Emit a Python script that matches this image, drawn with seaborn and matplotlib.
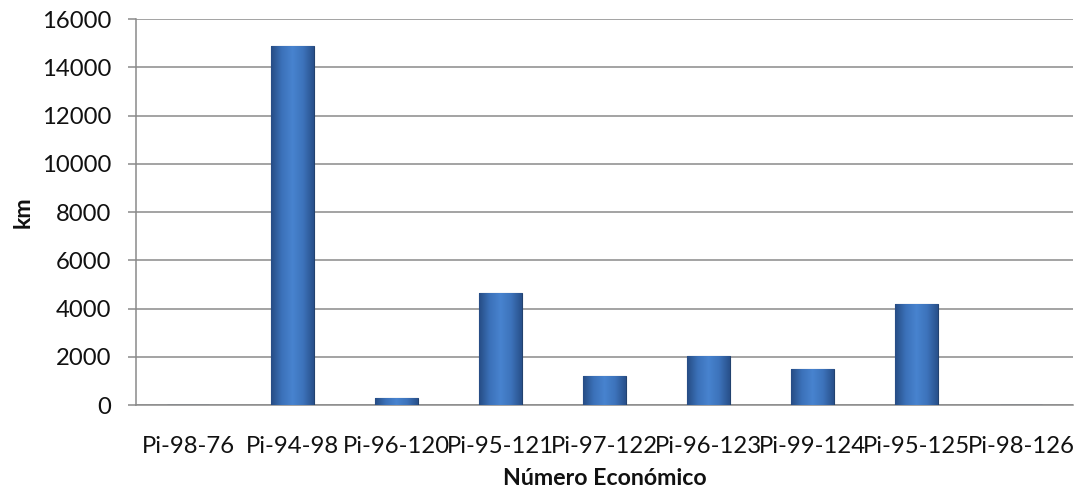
import numpy as np
import pandas as pd
import matplotlib
matplotlib.use("Agg")
import matplotlib.pyplot as plt
import seaborn as sns
from matplotlib.colors import LinearSegmentedColormap

categories = ["Pi-98-76", "Pi-94-98", "Pi-96-120", "Pi-95-121", "Pi-97-122",
              "Pi-96-123", "Pi-99-124", "Pi-95-125", "Pi-98-126"]
km_values = [0, 14870, 300, 4640, 1210, 2040, 1480, 4190, 0]
y_ticks = [0, 2000, 4000, 6000, 8000, 10000, 12000, 14000, 16000]

sns.set_theme(style="white")
plt.rcParams['font.family'] = ['Lato', 'DejaVu Sans']

df = pd.DataFrame({"cat": categories, "km": km_values})

fig = plt.figure(figsize=(10.81, 4.94), dpi=100)
ax = fig.add_axes([0.1258, 0.18, 0.9926 - 0.1258, 0.9615 - 0.18])

sns.barplot(data=df, x="cat", y="km", ax=ax, color="#3c73bd", width=0.41,
            edgecolor="#22426f", linewidth=0.8, saturation=1, zorder=3)

# gradient shading on each bar (derived from the bar patches)
cmap = LinearSegmentedColormap.from_list(
    "bev", ["#264c84", "#3b71b9", "#4883cf", "#3d73bb", "#28508a"])
grad = np.linspace(0, 1, 256).reshape(1, -1)
for p in ax.patches:
    h = p.get_height()
    if h <= 0:
        continue
    x0 = p.get_x(); w = p.get_width()
    im = ax.imshow(grad, extent=[x0, x0 + w, 0, h], aspect="auto",
                   cmap=cmap, zorder=3.5, interpolation="bicubic")
    im.set_clip_path(p)
ax.set_xlim(-0.5, len(categories) - 0.5)
ax.set_ylim(0, 16000)
ax.set_yticks(y_ticks)
ax.set_yticklabels([str(v) for v in y_ticks])

ax.yaxis.grid(True, color="#8a8a8a", linewidth=1.1, zorder=0)
ax.xaxis.grid(False)
for s in ["top", "right"]:
    ax.spines[s].set_visible(False)
for s in ["left", "bottom"]:
    ax.spines[s].set_color("#8a8a8a")
    ax.spines[s].set_linewidth(1.1)

FS = 17.2
ax.tick_params(axis="y", which="both", left=True, length=6, width=1.1,
               color="#8a8a8a", labelsize=FS, pad=12, labelcolor="#111111")
ax.tick_params(axis="x", bottom=False, labelsize=FS, pad=16, labelcolor="#111111")

ax.set_xlabel("Número Económico", fontsize=FS - 0.5, fontweight="bold",
              color="#111111", labelpad=8)
ax.set_ylabel("km", fontsize=FS - 0.5, fontweight="bold", color="#111111", labelpad=6)

fig.savefig("out.png", dpi=100)
